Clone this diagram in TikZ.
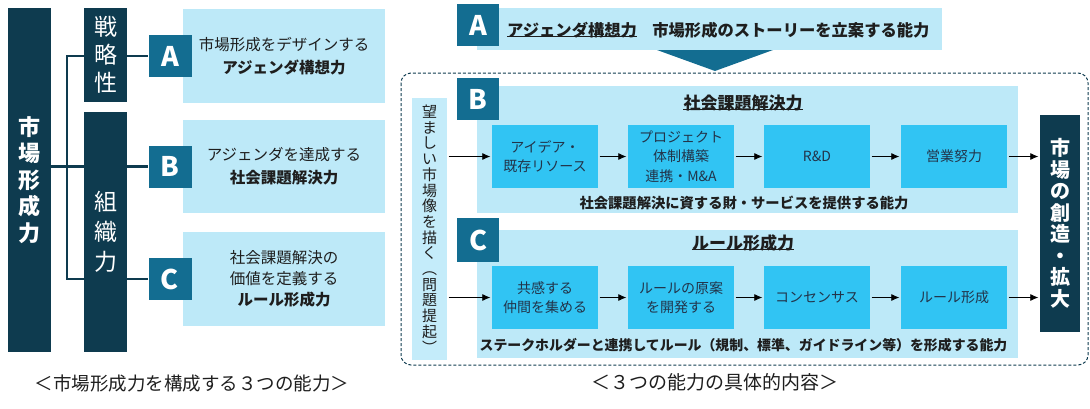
\documentclass[tikz,border=0pt]{standalone}
\usepackage{fontspec}
\setmainfont{Noto Sans CJK JP}
\usetikzlibrary{arrows.meta,backgrounds}
\definecolor{navyc}{HTML}{0E3B4F}
\definecolor{lettc}{HTML}{136D91}
\definecolor{panelc}{HTML}{BDE9F8}
\definecolor{vpanelc}{HTML}{C4ECFA}
\definecolor{cyanc}{HTML}{31C4F3}
\definecolor{txtc}{HTML}{1E1E1E}
\definecolor{boxtxt}{HTML}{22344A}
\begin{document}
\begin{tikzpicture}[x=1pt,y=-1pt,
  darkbar/.style={fill=navyc, draw=none, text=white, inner sep=0pt, align=center},
  letter/.style={fill=lettc, text=white, minimum width=43pt, minimum height=42pt, inner sep=0pt, font=\fontsize{27}{27}\selectfont\bfseries},
  panel/.style={fill=panelc, draw=none, inner sep=0pt},
  lpanel/.style={panel, minimum width=202pt, minimum height=94pt, align=center, text=txtc, font=\fontsize{15.5}{23}\selectfont},
  stepbox/.style={fill=cyanc, minimum width=106pt, minimum height=63pt, inner sep=0pt, align=center, text=boxtxt, font=\fontsize{14}{19.5}\selectfont},
  lbl/.style={inner sep=0pt, text=txtc},
  uline/.style={draw=txtc, line width=1.3pt},
  conn/.style={draw=navyc, line width=2.5pt},
  arr/.style={-{Latex[length=8pt,width=7pt]}, line width=0.8pt, draw=black, shorten >=1.5pt, shorten <=1.5pt}
]
\useasboundingbox (0,0) rectangle (1090,408);

% ---------------- left part ----------------
\node[darkbar, minimum width=43pt, minimum height=344pt, font=\fontsize{22}{26.5}\selectfont\bfseries] (mf) at (29.5,180) {市\\場\\形\\成\\力};
\node[darkbar, minimum width=43pt, minimum height=94pt, font=\fontsize{23}{28}\selectfont] (strat) at (105.5,55) {戦\\略\\性};
\node[darkbar, minimum width=43pt, minimum height=240pt, font=\fontsize{23}{30}\selectfont] (org) at (105.5,232) {組\\織\\力};

\node[lpanel] (pA) at (284,56) {市場形成をデザインする\\\textbf{アジェンダ構想力}};
\node[lpanel, minimum height=93pt] (pB) at (284,166.5) {アジェンダを達成する\\\textbf{社会課題解決力}};
\node[lpanel, font=\fontsize{15.5}{21}\selectfont] (pC) at (284,279) {社会課題解決の\\価値を定義する\\\textbf{ルール形成力}};

\node[letter] (lA) at (170,56) {A};
\node[letter] (lB) at (170,166.5) {B};
\node[letter] (lC) at (170,279) {C};

\coordinate (t1) at (67,56);
\coordinate (t3) at (67,279);
\begin{scope}[on background layer]
  \draw[conn] (mf.east |- lB) -- (lB.west);
  \draw[conn] (strat.east |- lA) -- (lA.west);
  \draw[conn] (strat.west |- lA) -- (t1) -- (t3) -- (lC.west);
\end{scope}

\node[lbl, font=\fontsize{18.5}{20}\selectfont] (capL) at (192,383) {＜市場形成力を構成する３つの能力＞};

% ---------------- right part ----------------
\node[panel, minimum width=465pt, minimum height=42pt] (hA) at (709.5,29) {};
\node[letter, minimum width=42pt] (rA) at (478,25) {A};
\node[lbl, anchor=west, font=\fontsize{16.3}{18}\selectfont\bfseries] (hAt) at (507,30) {アジェンダ構想力};
\node[lbl, anchor=west, font=\fontsize{16.3}{18}\selectfont\bfseries] (hAs) at ([xshift=15pt]hAt.east) {市場形成のストーリーを立案する能力};
\draw[uline] ([yshift=2pt]hAt.south west) -- ([yshift=2pt]hAt.south east);
\fill[lettc] (657,50) -- (773,50) -- (715,71) -- cycle;

\draw[draw=navyc, line width=1pt, dash pattern=on 3pt off 2pt, rounded corners=10pt] (401,73) rectangle (1088,365);

\node[fill=vpanelc, minimum width=35pt, minimum height=262pt, inner sep=0pt, align=center, text=txtc, font=\fontsize{15}{15.7}\selectfont] (vb) at (429.5,229) {望\\ま\\し\\い\\市\\場\\像\\を\\描\\く\\︵\\問\\題\\提\\起\\︶};

% B
\node[panel, minimum width=541pt, minimum height=127pt] (pnB) at (747.5,149.5) {};
\node[letter, minimum width=42pt] (rB) at (478,99) {B};
\node[lbl, font=\fontsize{17}{18}\selectfont\bfseries] (tB) at (743,103) {社会課題解決力};
\draw[uline] ([yshift=2pt]tB.south west) -- ([yshift=2pt]tB.south east);
\node[stepbox] (b1) at (545,156.5) {アイデア・\\既存リソース};
\node[stepbox] (b2) at (681,156.5) {プロジェクト\\体制構築\\連携・M\&A};
\node[stepbox] (b3) at (817,156.5) {R\&D};
\node[stepbox] (b4) at (954,156.5) {営業努力};
\node[lbl, font=\fontsize{14.3}{16}\selectfont\bfseries] (sB) at (744,203) {社会課題解決に資する財・サービスを提供する能力};

% C
\node[panel, minimum width=541pt, minimum height=128pt] (pnC) at (747.5,294) {};
\node[letter, minimum width=42pt, minimum height=44pt] (rC) at (478,240) {C};
\node[lbl, font=\fontsize{17}{18}\selectfont\bfseries] (tC) at (743,243) {ルール形成力};
\draw[uline] ([yshift=2pt]tC.south west) -- ([yshift=2pt]tC.south east);
\node[stepbox] (c1) at (545,297.5) {共感する\\仲間を集める};
\node[stepbox] (c2) at (681,297.5) {ルールの原案\\を開発する};
\node[stepbox] (c3) at (817,297.5) {コンセンサス};
\node[stepbox] (c4) at (954,297.5) {ルール形成};
\node[lbl, font=\fontsize{13.9}{16}\selectfont\bfseries] (sC) at (743.5,345) {ステークホルダーと連携してルール（規制、標準、ガイドライン等）を形成する能力};

% end box
\node[darkbar, minimum width=40pt, minimum height=217pt, font=\fontsize{20}{21.5}\selectfont\bfseries] (endb) at (1060,223.5) {市\\場\\の\\創\\造\\・\\拡\\大};

% arrows
\draw[arr] (vb.east |- b1) -- (b1.west);
\draw[arr] (b1) -- (b2);
\draw[arr] (b2) -- (b3);
\draw[arr] (b3) -- (b4);
\draw[arr] (b4) -- (endb.west |- b4);
\draw[arr] (vb.east |- c1) -- (c1.west);
\draw[arr] (c1) -- (c2);
\draw[arr] (c2) -- (c3);
\draw[arr] (c3) -- (c4);
\draw[arr] (c4) -- (endb.west |- c4);

\node[lbl, font=\fontsize{19}{20}\selectfont] (capR) at (715,382) {＜３つの能力の具体的内容＞};
\end{tikzpicture}
\end{document}
